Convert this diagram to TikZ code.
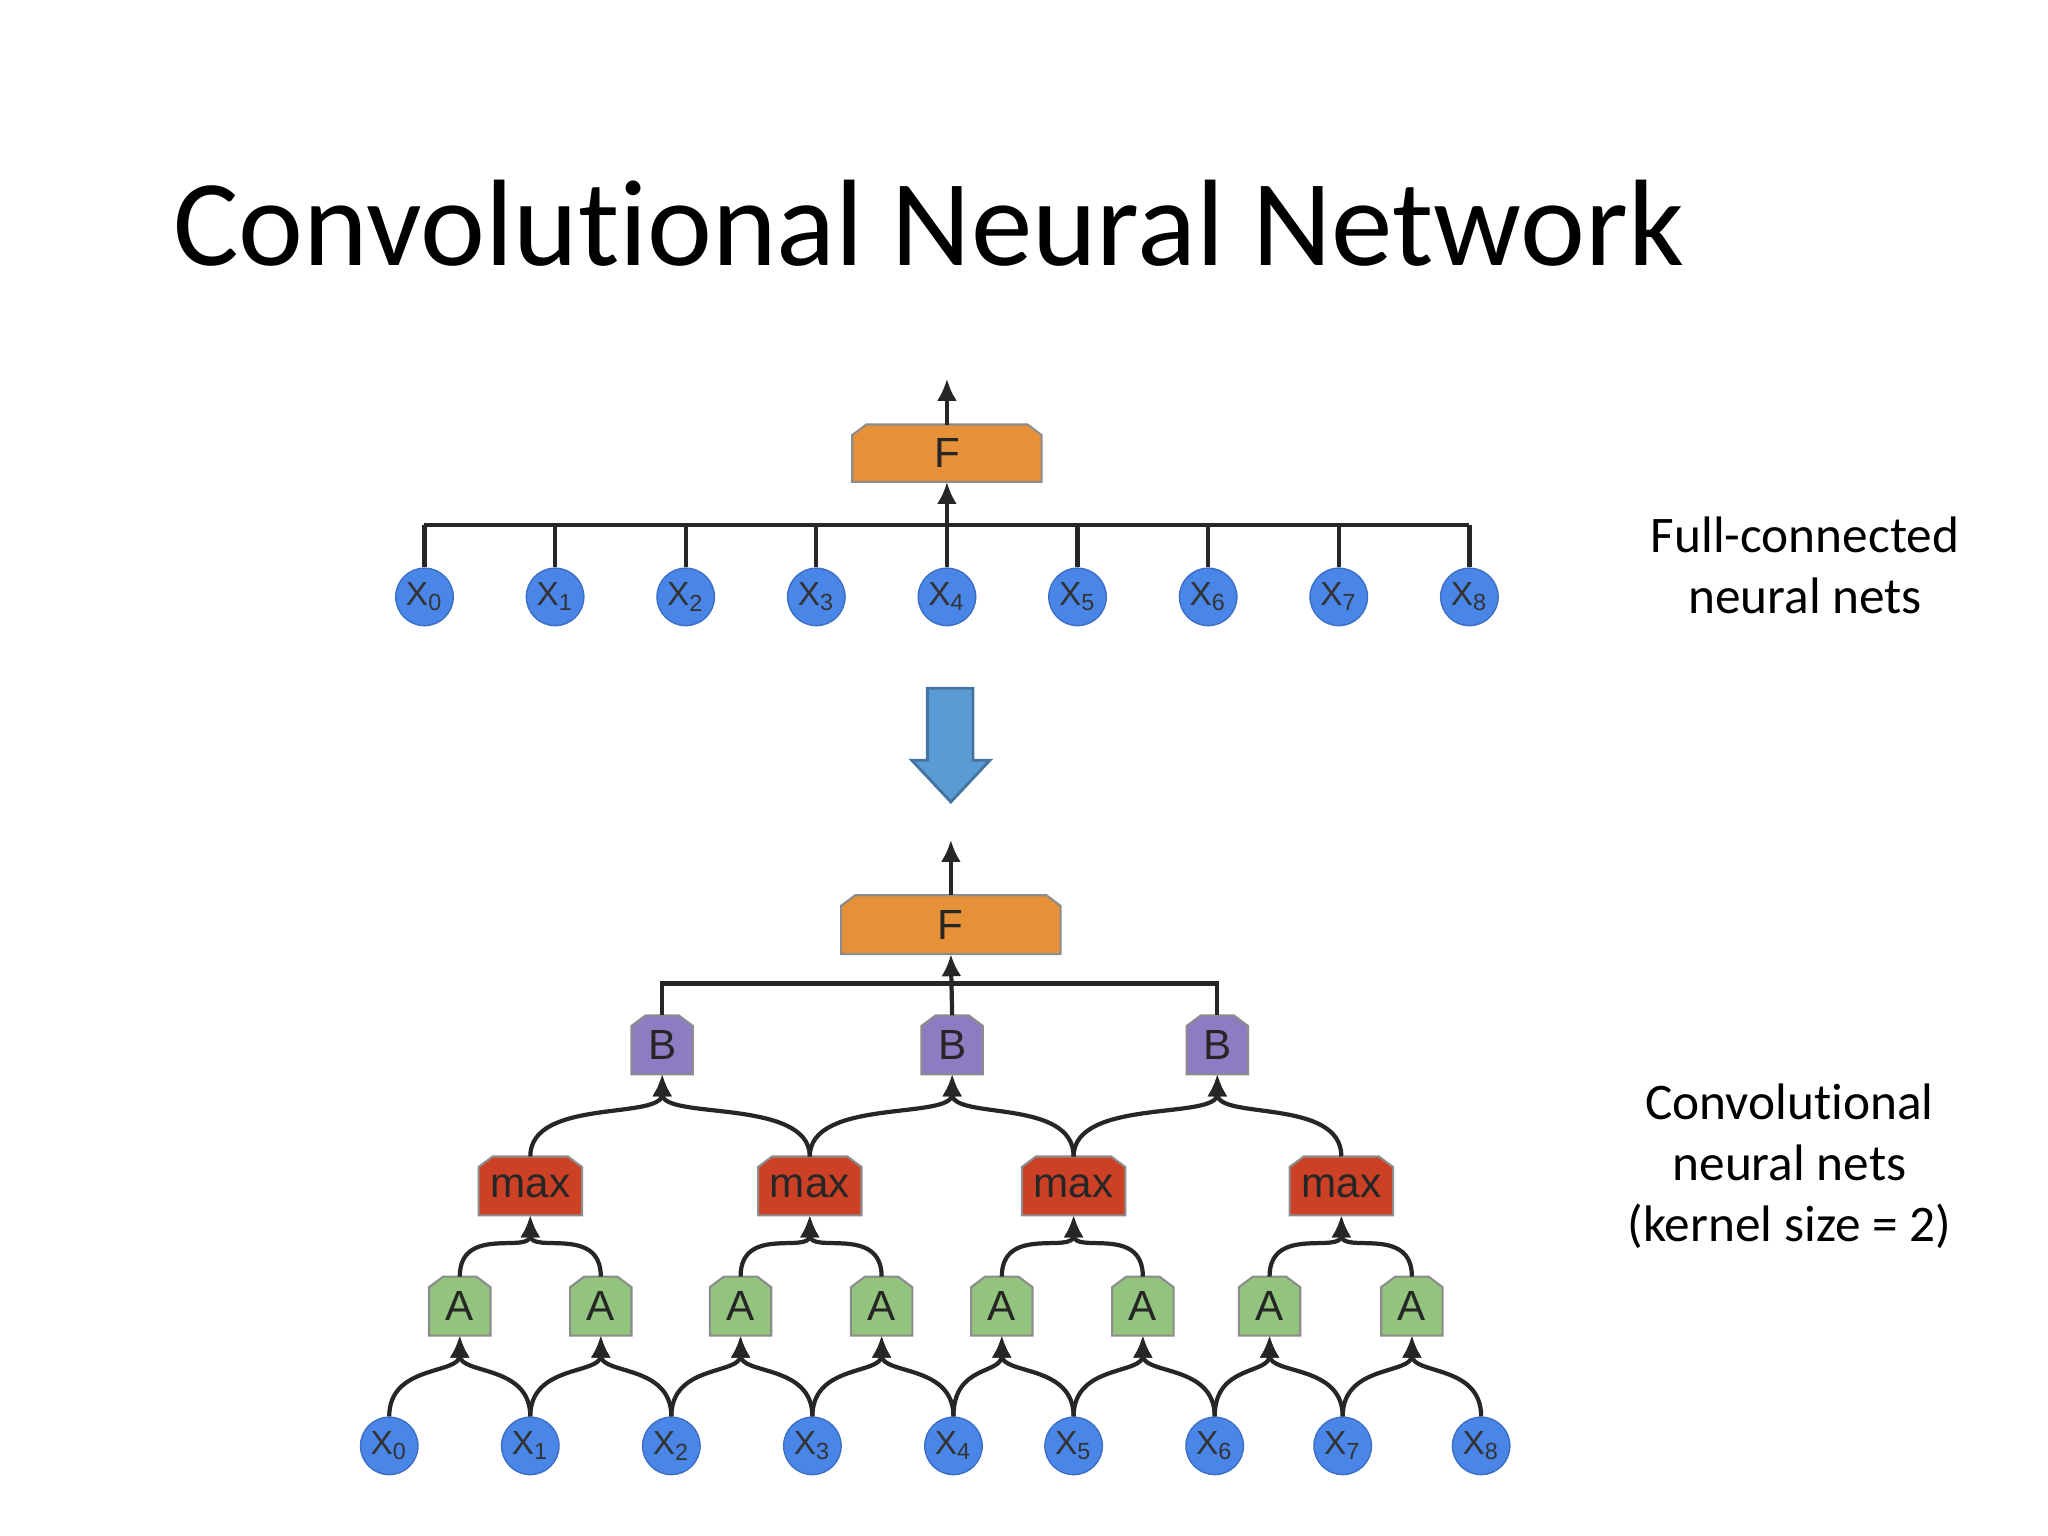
\documentclass[tikz,border=0pt]{standalone}
\usepackage{fontspec}
\setmainfont{Carlito}[Ligatures=NoCommon]
\newfontfamily\nodefont{Liberation Sans}
\usetikzlibrary{arrows.meta,backgrounds}
\definecolor{inblue}{HTML}{4A86E8}
\definecolor{inedge}{HTML}{3C6FC4}
\definecolor{agreen}{HTML}{93C47D}
\definecolor{bpurple}{HTML}{8E7CC3}
\definecolor{mred}{HTML}{CC4125}
\definecolor{forange}{HTML}{E69138}
\definecolor{bigarrow}{HTML}{5B9BD5}
% chamfered box drawn behind a named node
\newcommand\gatebox[2]{%
  \begin{pgfonlayer}{background}
  \filldraw[draw=black!45, fill=#2, line width=0.6pt] (#1.south west)
    -- ([yshift=-3pt]#1.north west) -- ([xshift=4pt]#1.north west)
    -- ([xshift=-4pt]#1.north east) -- ([yshift=-3pt]#1.north east)
    -- (#1.south east) -- cycle;
  \end{pgfonlayer}}
\begin{document}
\begin{tikzpicture}[
    x=0.013061cm, y=-0.013061cm,
    xin/.style={draw=inedge, fill=inblue, circle, minimum size=0.575cm, inner sep=0pt,
      font=\nodefont\fontsize{9.5}{10}\selectfont, text=black!80},
    gate/.style={rectangle, inner sep=0pt, minimum height=0.575cm,
      font=\nodefont\fontsize{12}{12}\selectfont, text=black!85},
    cella/.style={gate, minimum width=0.6cm},
    cellm/.style={gate, minimum width=1.02cm},
    wire/.style={line width=1.2pt, black!85},
    link/.style={wire, -{Latex[length=2.2mm,width=2mm]}},
    side/.style={align=center, font=\fontsize{14.6}{17.4}\selectfont}
    ]
    \useasboundingbox (0,0) rectangle (1568,1176);

    \node[anchor=base west, font=\fontsize{35}{35}\selectfont] (title) at (123,203)
        {Convolutional Neural Network};

    % Full-connected net
    \foreach \i in {0,...,8}
        \node[xin] (t\i) at (325+100*\i,457) {X\textsubscript{\i}};
    \node[gate, minimum width=1.88cm, minimum height=0.56cm] (fa) at (725,347) {F};
    \gatebox{fa}{forange}
    \coordinate (busa) at (725,402);
    \coordinate (outa) at (725,290);
    \foreach \i in {0,...,8}
        \draw[wire] (t\i.north) -- (t\i.north |- busa);
    \draw[wire] (t0.north |- busa) -- (t8.north |- busa);
    \draw[link] (busa) -- (fa.south);
    \draw[link] (fa.north) -- (outa);

    \node[side] (lfull) at (1382,433) {Full-connected\\neural nets};

    % Block arrow
    \fill[bigarrow, draw=bigarrow!75!black, line width=0.8pt]
        (710,527) -- (745,527) -- (745,582) -- (758,582) -- (728,614)
        -- (698,582) -- (710,582) -- cycle;

    % Convolutional net
    \foreach \x [count=\i from 0] in {298,406,514,622,730,822,930,1028,1134}
        \node[xin] (x\i) at (\x,1107) {X\textsubscript{\i}};
    \foreach \x [count=\i from 0] in {352,460,567,675,767,875,972,1081}
        {\node[cella] (a\i) at (\x,1000) {A};
         \gatebox{a\i}{agreen}}
    \foreach \x [count=\i from 0] in {406,620,822,1027}
        {\node[cellm] (m\i) at (\x,908) {max};
         \gatebox{m\i}{mred}}
    \foreach \x [count=\i from 0] in {507,729,932}
        {\node[cella] (b\i) at (\x,800) {B};
         \gatebox{b\i}{bpurple}}
    \node[gate, minimum width=2.18cm] (fb) at (728,708) {F};
    \gatebox{fb}{forange}
    \coordinate (outb) at (728,643);

    \foreach \i [evaluate=\i as \j using int(\i+1)] in {0,...,7}
        {\draw[link] (x\i.north) .. controls +(0,-40) and +(0,30) .. (a\i.south);
         \draw[link] (x\j.north) .. controls +(0,-40) and +(0,30) .. (a\i.south);}
    \foreach \i [evaluate=\i as \p using int(2*\i), evaluate=\i as \q using int(2*\i+1)] in {0,...,3}
        {\draw[link] (a\p.north) .. controls +(0,-40) and +(0,30) .. (m\i.south);
         \draw[link] (a\q.north) .. controls +(0,-40) and +(0,30) .. (m\i.south);}
    \foreach \i [evaluate=\i as \j using int(\i+1)] in {0,...,2}
        {\draw[link] (m\i.north) .. controls +(0,-45) and +(0,35) .. (b\i.south);
         \draw[link] (m\j.north) .. controls +(0,-45) and +(0,35) .. (b\i.south);}
    \coordinate (busb) at (729,753);
    \draw[wire] (b0.north) |- (b2.north |- busb) -- (b2.north);
    \draw[link] (b1.north) -- (fb.south);
    \draw[link] (fb.north) -- (outb);

    \node[side] (lconv) at (1370,893) {Convolutional\\neural nets\\(kernel size = 2)};
\end{tikzpicture}
\end{document}
